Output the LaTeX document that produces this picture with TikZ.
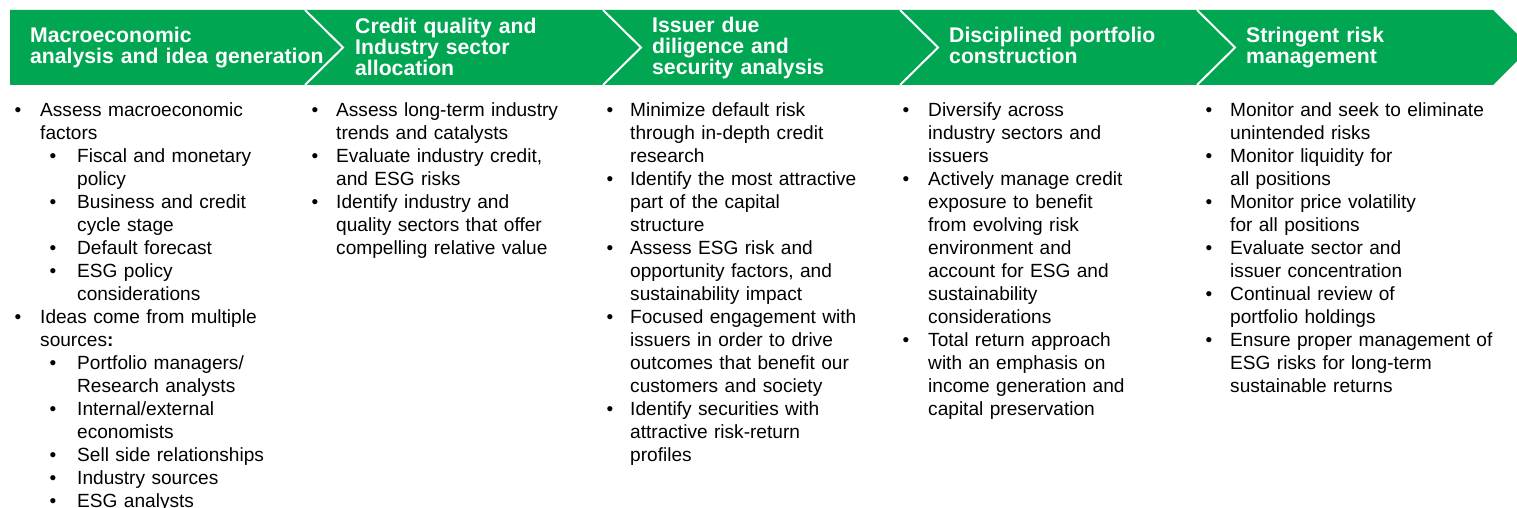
\documentclass[tikz,border=0pt]{standalone}
\usepackage{fontspec}
\setmainfont{Liberation Sans}
\definecolor{brandgreen}{RGB}{0,166,81}

% one bulleted entry: name, bullet x, text x, line number, text
\newcommand\entry[5]{%
  \node[dot] (#1-dot) at (#2,{116.5+23*#4}) {•};
  \node[item] (#1) at (#3,{116.5+23*#4}) {#5};}

\begin{document}
\begin{tikzpicture}[x=1pt,y=-1pt,
  band/.style={fill=brandgreen,draw=none},
  chevline/.style={draw=white,line width=2pt,line join=miter},
  head/.style={anchor=base west,inner sep=0pt,text=white,text width=300pt,align=left,
    font=\bfseries\fontsize{21.2}{20.8}\selectfont},
  item/.style={anchor=base west,inner sep=0pt,text=black,text width=300pt,align=left,
    font=\fontsize{19.1}{23}\selectfont},
  dot/.style={anchor=base,inner sep=0pt,text=black,font=\fontsize{19.1}{23}\selectfont}]

\useasboundingbox (0,0) rectangle (1517,508);
\clip (0,0) rectangle (1517,508);

% process band with its arrow end
\fill[band] (10,10) -- (1493,10) -- (1530.5,47.5) -- (1493,85) -- (10,85) -- cycle;

% chevron separators between the stages
\foreach \sx in {305,603,900,1197}
  \draw[chevline] (\sx,10) -- (\sx+38,47.5) -- (\sx,85);

% stage titles
\node[head] (h1) at (30,43)   {Macroeconomic\\analysis and idea generation};
\node[head] (h2) at (355,33.5){Credit quality and\\Industry sector\\allocation};
\node[head] (h3) at (652,32.5){Issuer due\\diligence and\\security analysis};
\node[head] (h4) at (949,42.7){Disciplined portfolio\\construction};
\node[head] (h5) at (1246,42.7){Stringent risk\\management};

% column 1
\entry{a1}{18}{40}{0}{Assess macroeconomic\\factors}
\entry{a2}{53}{77}{2}{Fiscal and monetary\\policy}
\entry{a3}{53}{77}{4}{Business and credit\\cycle stage}
\entry{a4}{53}{77}{6}{Default forecast}
\entry{a5}{53}{77}{7}{ESG policy\\considerations}
\entry{a6}{18}{40}{9}{Ideas come from multiple\\sources\textbf{:}}
\entry{a7}{53}{77}{11}{Portfolio managers/\\Research analysts}
\entry{a8}{53}{77}{13}{Internal/external\\economists}
\entry{a9}{53}{77}{15}{Sell side relationships}
\entry{a10}{53}{77}{16}{Industry sources}
\entry{a11}{53}{77}{17}{ESG analysts}

% column 2
\entry{b1}{315}{336}{0}{Assess long-term industry\\trends and catalysts}
\entry{b2}{315}{336}{2}{Evaluate industry credit,\\and ESG risks}
\entry{b3}{315}{336}{4}{Identify industry and\\quality sectors that offer\\compelling relative value}

% column 3
\entry{c1}{610}{630}{0}{Minimize default risk\\through in-depth credit\\research}
\entry{c2}{610}{630}{3}{Identify the most attractive\\part of the capital\\structure}
\entry{c3}{610}{630}{6}{Assess ESG risk and\\opportunity factors, and\\sustainability impact}
\entry{c4}{610}{630}{9}{Focused engagement with\\issuers in order to drive\\outcomes that benefit our\\customers and society}
\entry{c5}{610}{630}{13}{Identify securities with\\attractive risk-return\\profiles}

% column 4
\entry{d1}{906}{928}{0}{Diversify across\\industry sectors and\\issuers}
\entry{d2}{906}{928}{3}{Actively manage credit\\exposure to benefit\\from evolving risk\\environment and\\account for ESG and\\sustainability\\considerations}
\entry{d3}{906}{928}{10}{Total return approach\\with an emphasis on\\income generation and\\capital preservation}

% column 5
\entry{e1}{1209}{1230}{0}{Monitor and seek to eliminate\\unintended risks}
\entry{e2}{1209}{1230}{2}{Monitor liquidity for\\all positions}
\entry{e3}{1209}{1230}{4}{Monitor price volatility\\for all positions}
\entry{e4}{1209}{1230}{6}{Evaluate sector and\\issuer concentration}
\entry{e5}{1209}{1230}{8}{Continual review of\\portfolio holdings}
\entry{e6}{1209}{1230}{10}{Ensure proper management of\\ESG risks for long-term\\sustainable returns}

\end{tikzpicture}
\end{document}
